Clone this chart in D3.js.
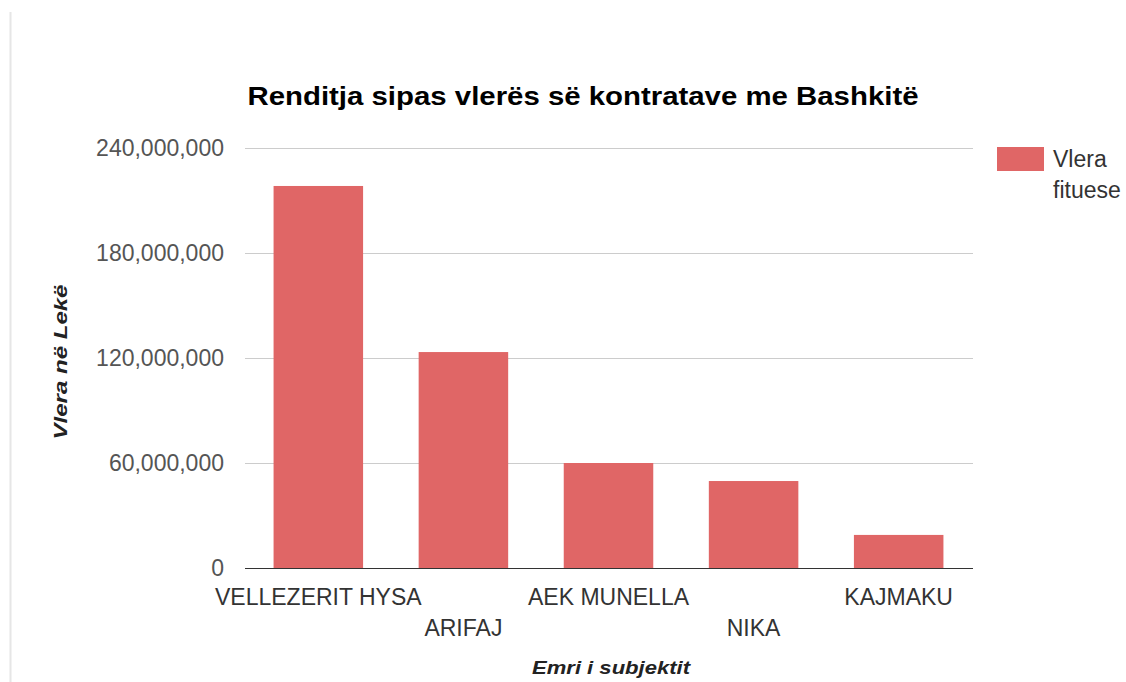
<!DOCTYPE html>
<html>
<head>
<meta charset="utf-8">
<script src="https://cdn.jsdelivr.net/npm/d3@7"></script>
<style>
  body { margin: 0; background: #fff; }
  text { font-family: "Liberation Sans", Arial, sans-serif; }
</style>
</head>
<body>
<div id="chart"></div>
<script>
// data
var categories = ["VELLEZERIT HYSA", "ARIFAJ", "AEK MUNELLA", "NIKA", "KAJMAKU"];
var values = [218300000, 123400000, 60000000, 49700000, 18900000];
var yTicks = [0, 60000000, 120000000, 180000000, 240000000];
var seriesName = ["Vlera", "fituese"];

var width = 1126, height = 682;

var svg = d3.select("#chart").append("svg")
    .attr("width", width)
    .attr("height", height);

// faint border on the left
svg.append("line")
    .attr("x1", 10.5).attr("x2", 10.5)
    .attr("y1", 12).attr("y2", height)
    .attr("stroke", "#e6e6e6")
    .attr("stroke-width", 2);

var x = d3.scaleBand()
    .domain(categories)
    .range([246, 971])
    .paddingInner(0.383)
    .paddingOuter(0.19);

var y = d3.scaleLinear()
    .domain([0, 240000000])
    .range([568, 148]);

var fmt = d3.format(",");

// gridlines
svg.selectAll(".grid")
    .data(yTicks.filter(function(d) { return d > 0; }))
    .enter().append("line")
    .attr("class", "grid")
    .attr("x1", 245).attr("x2", 973)
    .attr("y1", function(d) { return Math.round(y(d)) + 0.5; })
    .attr("y2", function(d) { return Math.round(y(d)) + 0.5; })
    .attr("stroke", "#cccccc");

// y tick labels
svg.selectAll(".ytick")
    .data(yTicks)
    .enter().append("text")
    .attr("class", "ytick")
    .attr("x", 224)
    .attr("y", function(d) { return y(d); })
    .attr("dy", "0.35em")
    .attr("text-anchor", "end")
    .attr("fill", "#555")
    .style("font-size", "23px")
    .text(function(d) { return fmt(d); });

// bars
svg.selectAll(".bar")
    .data(values)
    .enter().append("rect")
    .attr("class", "bar")
    .attr("x", function(d, i) { return x(categories[i]); })
    .attr("width", x.bandwidth())
    .attr("y", function(d) { return y(d); })
    .attr("height", function(d) { return y(0) - y(d); })
    .attr("fill", "#e06666");

// baseline
svg.append("line")
    .attr("x1", 245).attr("x2", 973)
    .attr("y1", 568.5).attr("y2", 568.5)
    .attr("stroke", "#333")
    .attr("stroke-width", 1);

// x labels, staggered in two rows
svg.selectAll(".xlab")
    .data(categories)
    .enter().append("text")
    .attr("class", "xlab")
    .attr("x", function(d) { return x(d) + x.bandwidth() / 2; })
    .attr("y", function(d, i) { return i % 2 === 0 ? 605 : 636; })
    .attr("text-anchor", "middle")
    .attr("fill", "#333")
    .style("font-size", "23px")
    .text(function(d) { return d; });

// title
svg.append("text")
    .attr("x", 583)
    .attr("y", 105)
    .attr("text-anchor", "middle")
    .attr("textLength", 671)
    .attr("lengthAdjust", "spacingAndGlyphs")
    .style("font-size", "25px")
    .style("font-weight", "bold")
    .attr("fill", "#000")
    .text("Renditja sipas vlerës së kontratave me Bashkitë");

// axis titles
svg.append("text")
    .attr("x", 611)
    .attr("y", 674)
    .attr("text-anchor", "middle")
    .attr("textLength", 158)
    .attr("lengthAdjust", "spacingAndGlyphs")
    .style("font-size", "19px")
    .style("font-weight", "bold")
    .style("font-style", "italic")
    .attr("fill", "#222")
    .text("Emri i subjektit");

svg.append("text")
    .attr("transform", "translate(67,362) rotate(-90)")
    .attr("text-anchor", "middle")
    .attr("textLength", 155)
    .attr("lengthAdjust", "spacingAndGlyphs")
    .style("font-size", "19px")
    .style("font-weight", "bold")
    .style("font-style", "italic")
    .attr("fill", "#222")
    .text("Vlera në Lekë");

// legend
var legend = svg.append("g").attr("transform", "translate(997,147)");
legend.append("rect")
    .attr("width", 47).attr("height", 24)
    .attr("fill", "#e06666");
legend.selectAll("text")
    .data(seriesName)
    .enter().append("text")
    .attr("x", 56)
    .attr("y", function(d, i) { return 20 + i * 31; })
    .attr("fill", "#333")
    .style("font-size", "23px")
    .text(function(d) { return d; });
</script>
</body>
</html>
